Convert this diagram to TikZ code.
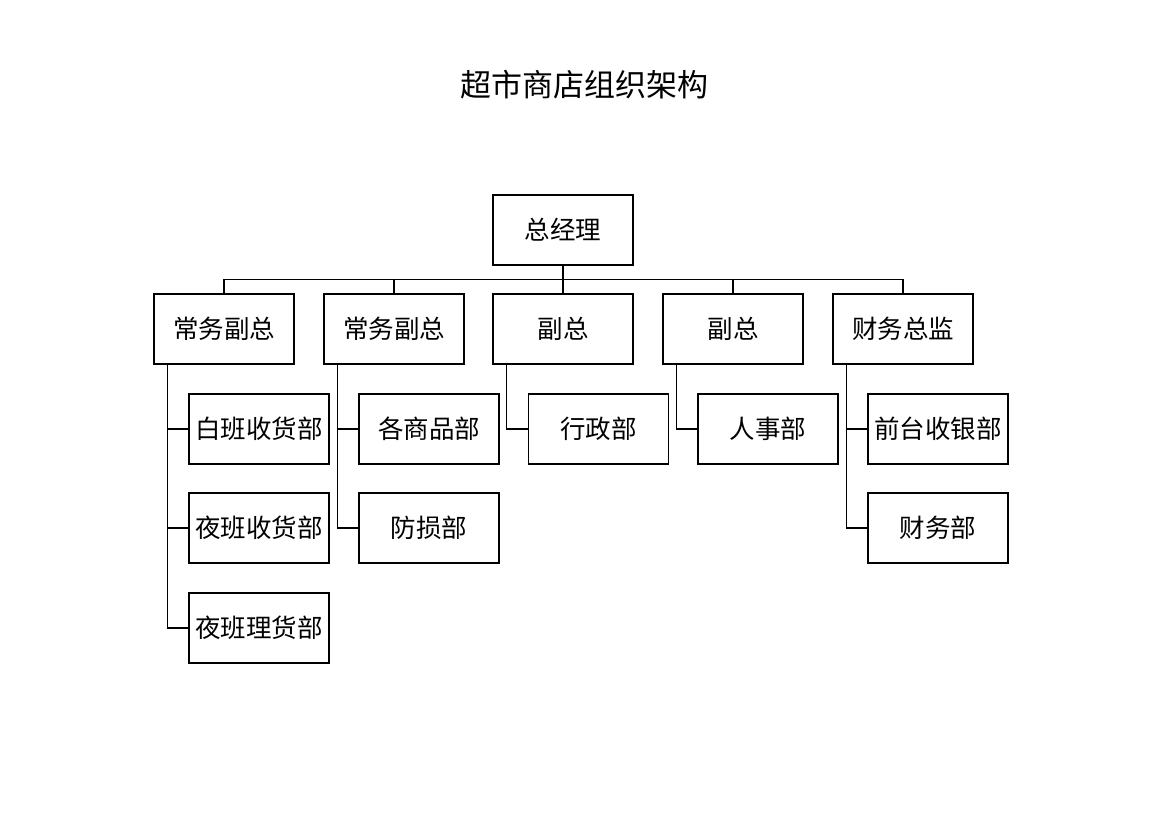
\documentclass[tikz,border=0pt]{standalone}
\usepackage{fontspec}
\setmainfont{Noto Sans CJK SC}
\begin{document}
\begin{tikzpicture}[x=1pt,y=-1pt,
  box/.style={draw,line width=1.1pt,minimum width=140pt,minimum height=70pt,inner sep=0pt,font=\fontsize{25.5}{28}\selectfont},
  conn/.style={line width=1.1pt}]
\useasboundingbox[fill=white] (0,0) rectangle (1169,826);
\node[font=\fontsize{31}{35}\selectfont] (title) at (584,85) {超市商店组织架构};
\node[box] (gm) at (563,230) {总经理};
\node[box] (a) at (224,329) {常务副总};
\node[box] (b) at (394,329) {常务副总};
\node[box] (c) at (563,329) {副总};
\node[box] (d) at (733,329) {副总};
\node[box] (e) at (903,329) {财务总监};
\node[box] (a1) at (259,429) {白班收货部};
\node[box] (a2) at (259,528) {夜班收货部};
\node[box] (a3) at (259,628) {夜班理货部};
\node[box] (b1) at (429,429) {各商品部};
\node[box] (b2) at (429,528) {防损部};
\node[box] (c1) at (598.5,429) {行政部};
\node[box] (d1) at (768,429) {人事部};
\node[box] (e1) at (938,429) {前台收银部};
\node[box] (e2) at (938,528) {财务部};
\foreach \n in {a,b,c,d,e}{
  \draw[conn] (gm.south) -- ++(0,14) -| (\n.north);
}
\foreach \p/\c in {a/a1,a/a2,a/a3,b/b1,b/b2,c/c1,d/d1,e/e1,e/e2}{
  \draw[conn] ([xshift=14pt]\p.south west) |- (\c.west);
}
\end{tikzpicture}
\end{document}
